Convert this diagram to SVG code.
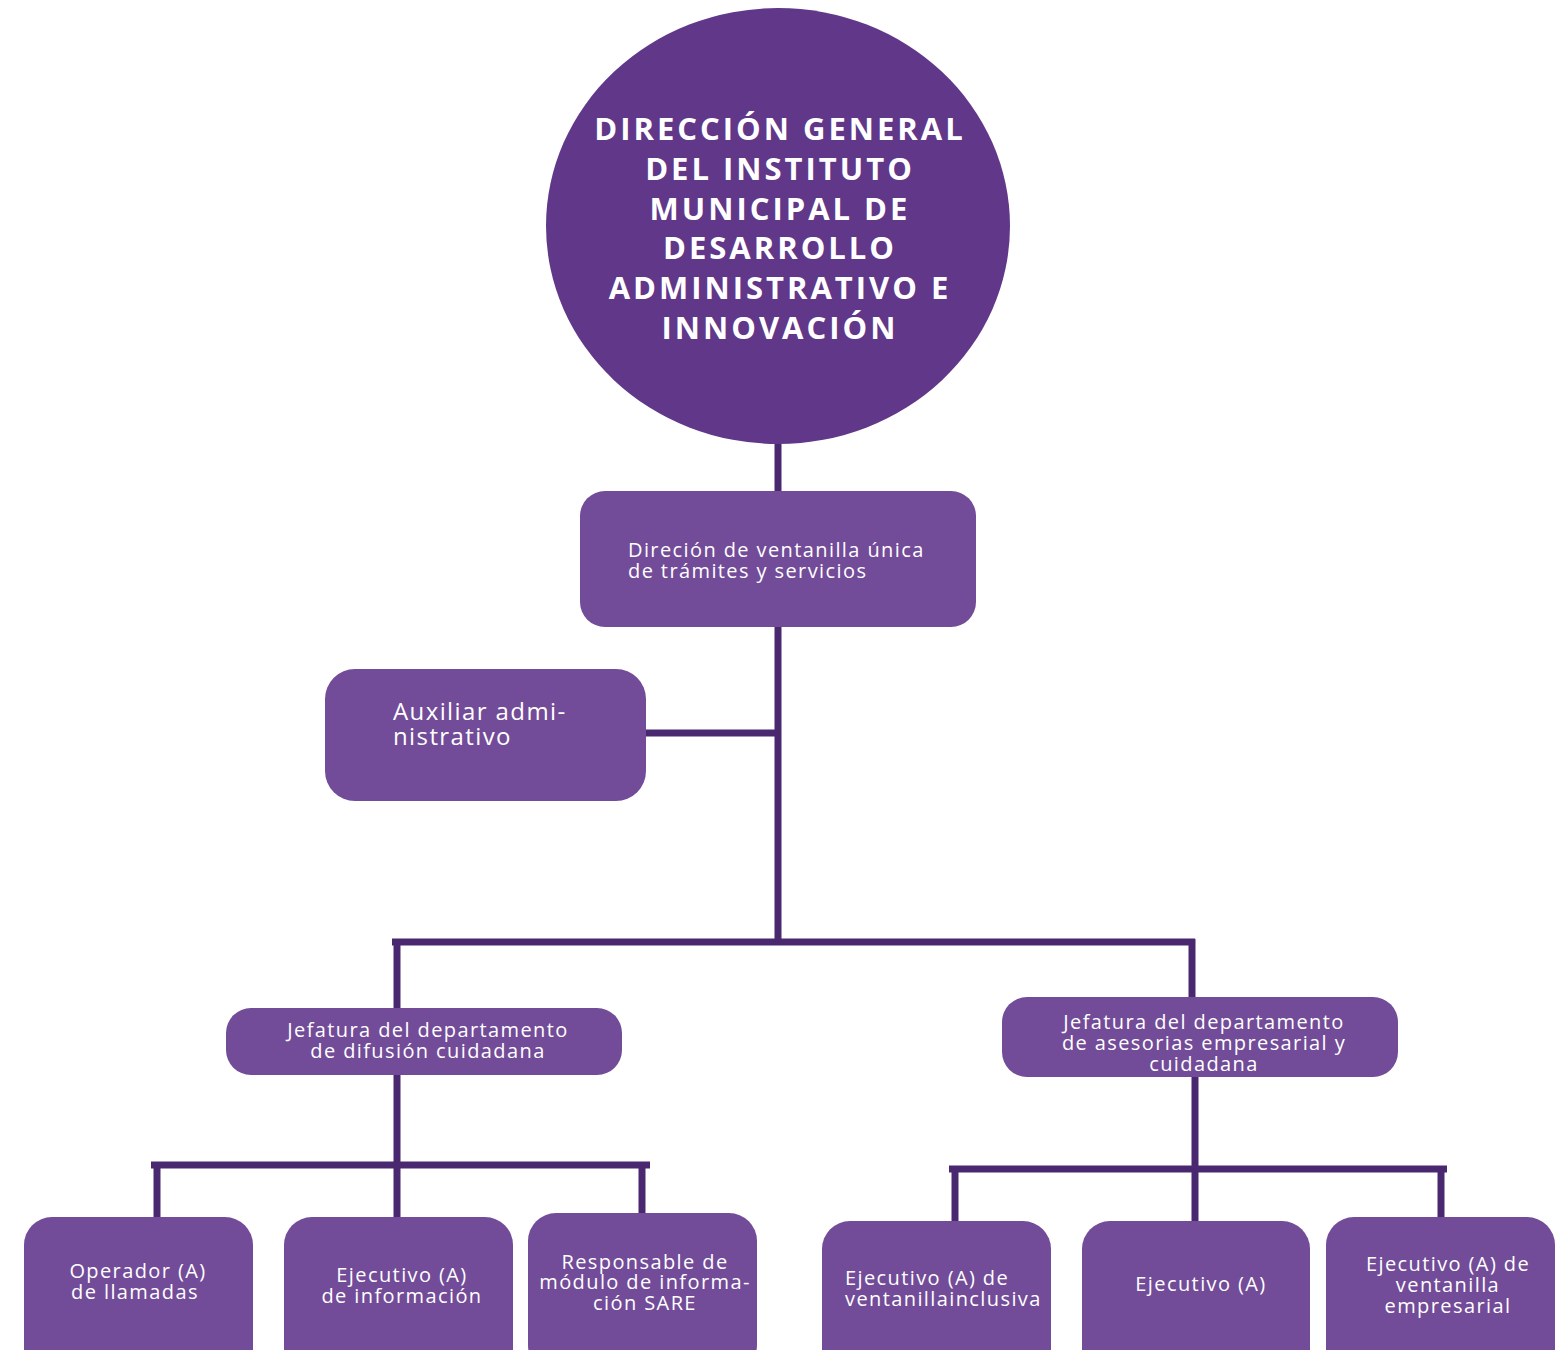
<svg xmlns="http://www.w3.org/2000/svg" width="1560" height="1350" viewBox="0 0 1560 1350">
<style>
.box{fill:#724c98;}
.ln{stroke:#4a2870;stroke-width:7;fill:none;stroke-linecap:butt;}
.t{font-family:"Open Sans","DejaVu Sans",sans-serif;fill:#ffffff;font-size:20px;letter-spacing:1.4px;}
.c{text-anchor:middle;}
.title{font-family:"Open Sans","DejaVu Sans",sans-serif;fill:#ffffff;font-size:31px;font-weight:700;letter-spacing:3px;text-anchor:middle;}
</style>
<rect width="1560" height="1350" fill="#ffffff"/>
<g id="connectors">
<line class="ln" x1="778" y1="440" x2="778" y2="492"/>
<line class="ln" x1="778" y1="626" x2="778" y2="945"/>
<line class="ln" x1="645" y1="733" x2="778" y2="733"/>
<line class="ln" x1="392" y1="942" x2="1195" y2="942"/>
<line class="ln" x1="397" y1="939" x2="397" y2="1009"/>
<line class="ln" x1="1192" y1="939" x2="1192" y2="998"/>
<line class="ln" x1="397" y1="1074" x2="397" y2="1218"/>
<line class="ln" x1="151" y1="1165" x2="650" y2="1165"/>
<line class="ln" x1="157" y1="1162" x2="157" y2="1218"/>
<line class="ln" x1="642" y1="1162" x2="642" y2="1214"/>
<line class="ln" x1="1195" y1="1076" x2="1195" y2="1222"/>
<line class="ln" x1="949" y1="1169" x2="1447" y2="1169"/>
<line class="ln" x1="955" y1="1166" x2="955" y2="1222"/>
<line class="ln" x1="1441" y1="1166" x2="1441" y2="1218"/>
</g>
<g id="n-direccion-general">
<ellipse cx="778" cy="226" rx="232" ry="218" fill="#61378a"/>
<text class="title" x="780" y="140">DIRECCIÓN GENERAL</text>
<text class="title" x="780" y="180">DEL INSTITUTO</text>
<text class="title" x="780" y="220">MUNICIPAL DE</text>
<text class="title" x="780" y="259">DESARROLLO</text>
<text class="title" x="780" y="299">ADMINISTRATIVO E</text>
<text class="title" x="780" y="339">INNOVACIÓN</text>
</g>
<g id="n-ventanilla-unica">
<rect class="box" x="580" y="491" width="396" height="136" rx="25"/>
<text class="t" x="628" y="557">Direción de ventanilla única</text>
<text class="t" x="628" y="578">de trámites y servicios</text>
</g>
<g id="n-auxiliar">
<rect class="box" x="325" y="669" width="321" height="132" rx="30"/>
<text class="t" x="393" y="720" style="font-size:24px">Auxiliar admi-</text>
<text class="t" x="393" y="745" style="font-size:24px">nistrativo</text>
</g>
<g id="n-jefatura-difusion">
<rect class="box" x="226" y="1008" width="396" height="67" rx="25"/>
<text class="t c" x="428" y="1037">Jefatura del departamento</text>
<text class="t c" x="428" y="1058">de difusión cuidadana</text>
</g>
<g id="n-jefatura-asesorias">
<rect class="box" x="1002" y="997" width="396" height="80" rx="25"/>
<text class="t c" x="1204" y="1029">Jefatura del departamento</text>
<text class="t c" x="1204" y="1050">de asesorias empresarial y</text>
<text class="t c" x="1204" y="1071">cuidadana</text>
</g>
<g id="n-operador">
<rect class="box" x="24" y="1217" width="229" height="160" rx="28"/>
<text class="t c" x="138" y="1278">Operador (A)</text>
<text class="t c" x="135" y="1299">de llamadas</text>
</g>
<g id="n-ejecutivo-info">
<rect class="box" x="284" y="1217" width="229" height="160" rx="28"/>
<text class="t c" x="402" y="1282">Ejecutivo (A)</text>
<text class="t c" x="402" y="1303">de información</text>
</g>
<g id="n-responsable-sare">
<rect class="box" x="528" y="1213" width="229" height="160" rx="28"/>
<text class="t c" x="645" y="1269">Responsable de</text>
<text class="t c" x="645" y="1289">módulo de informa-</text>
<text class="t c" x="645" y="1310">ción SARE</text>
</g>
<g id="n-ejecutivo-inclusiva">
<rect class="box" x="822" y="1221" width="229" height="160" rx="28"/>
<text class="t" x="845" y="1285">Ejecutivo (A) de</text>
<text class="t" x="845" y="1306">ventanillainclusiva</text>
</g>
<g id="n-ejecutivo">
<rect class="box" x="1082" y="1221" width="228" height="160" rx="28"/>
<text class="t c" x="1201" y="1291">Ejecutivo (A)</text>
</g>
<g id="n-ejecutivo-empresarial">
<rect class="box" x="1326" y="1217" width="229" height="160" rx="28"/>
<text class="t c" x="1448" y="1271">Ejecutivo (A) de</text>
<text class="t c" x="1448" y="1292">ventanilla</text>
<text class="t c" x="1448" y="1313">empresarial</text>
</g>
</svg>
